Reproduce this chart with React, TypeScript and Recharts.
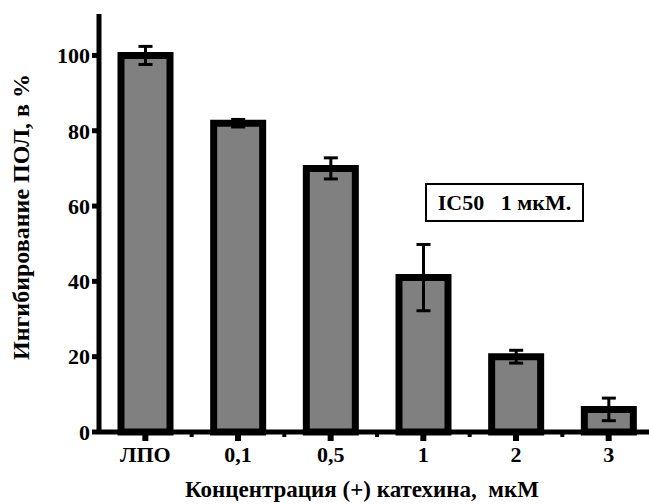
import { BarChart, Bar, XAxis, YAxis, ErrorBar, Label } from 'recharts'

const categories = ['ЛПО', '0,1', '0,5', '1', '2', '3']
const inhibition = [100, 82, 70, 41, 20, 6]
const errors = [2.4, 1, 2.8, 8.8, 1.7, 3]
const yTicks = [0, 20, 40, 60, 80, 100]

const data = categories.map((name, i) => ({ name, value: inhibition[i], err: errors[i] }))

const FONT = 'Liberation Serif'
const tickStyle = { fill: '#000', fontSize: 22, fontWeight: 700, fontFamily: FONT }

// category label plus a small minor tick half a band to the right
function CategoryTick(props: any) {
  const { x, y, payload, index, width } = props
  const band = Number(width) / categories.length
  const axisY = y - 14
  return (
    <g>
      {Number.isFinite(band) && index < categories.length - 1 && (
        <line x1={x + band / 2} x2={x + band / 2} y1={axisY} y2={axisY + 5} stroke="#000" strokeWidth={4} />
      )}
      <text x={x} y={y} dy="0.71em" textAnchor="middle" fill="#000" fontSize={22} fontWeight={700} fontFamily={FONT}>
        {payload.value}
      </text>
    </g>
  )
}

function YTitle(props: any) {
  const { viewBox } = props
  const cx = viewBox.x + 29
  const cy = viewBox.y + viewBox.height / 2 - 6
  return (
    <text
      x={cx}
      y={cy}
      transform={`rotate(-90, ${cx}, ${cy})`}
      textAnchor="middle"
      fill="#000"
      fontSize={24}
      fontWeight={700}
      fontFamily={FONT}
    >
      Ингибирование ПОЛ, в %
    </text>
  )
}

export default function App() {
  return (
    <div style={{ position: 'relative', width: 649, height: 504, overflow: 'hidden', background: '#fff', fontFamily: FONT }}>
      <style>{'body{margin:0}'}</style>
      <BarChart
        width={660}
        height={504}
        data={data}
        margin={{ top: 14, right: 5, left: 0, bottom: 0 }}
      >
        <XAxis
          dataKey="name"
          height={72}
          axisLine={{ stroke: '#000', strokeWidth: 5 }}
          tickLine={{ stroke: '#000', strokeWidth: 6 }}
          tickSize={9}
          tickMargin={5}
          tick={<CategoryTick />}
        >
          <Label
            value={'Концентрация (+) катехина,\u00a0 мкМ'}
            position="insideBottom"
            offset={7}
            dx={-15}
            fill="#000"
            fontSize={23}
            fontWeight={700}
            fontFamily={FONT}
          />
        </XAxis>
        <YAxis
          width={99}
          domain={[0, 111]}
          ticks={yTicks}
          axisLine={{ stroke: '#000', strokeWidth: 5 }}
          tickLine={{ stroke: '#000', strokeWidth: 5 }}
          tickSize={7}
          tickMargin={2}
          tick={tickStyle}
        >
          <Label content={YTitle} />
        </YAxis>
        <Bar dataKey="value" fill="#808080" stroke="#000" strokeWidth={7} barSize={49} isAnimationActive={false}>
          <ErrorBar dataKey="err" width={7} stroke="#000" strokeWidth={3} isAnimationActive={false} />
        </Bar>
      </BarChart>
      <div
        style={{
          position: 'absolute',
          left: 425,
          top: 183,
          width: 159,
          height: 39,
          boxSizing: 'border-box',
          border: '2px solid #000',
          background: '#fff',
          fontWeight: 700,
          fontSize: 22,
          lineHeight: '35px',
          textAlign: 'center',
          whiteSpace: 'pre',
        }}
      >
        {'IC50   1 мкМ.'}
      </div>
    </div>
  )
}
